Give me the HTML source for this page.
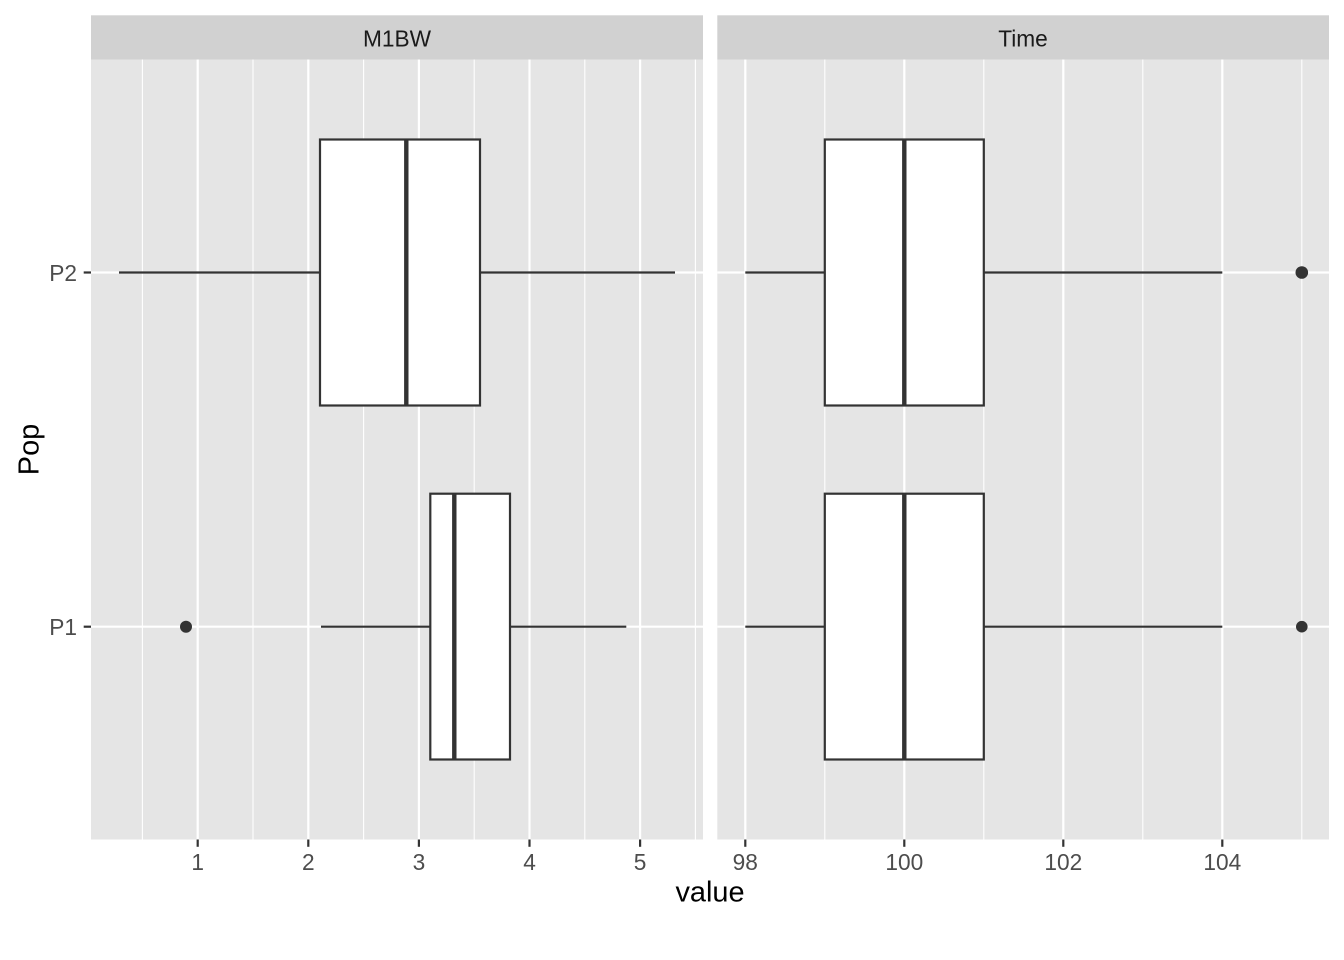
<!DOCTYPE html>
<html>
<head>
<meta charset="utf-8">
<style>
html,body{margin:0;padding:0;background:#fff;}
svg{display:block;}
text{font-family:"Liberation Sans",Arial,sans-serif;}
</style>
</head>
<body>
<svg width="1344" height="960" viewBox="0 0 1344 960" xmlns="http://www.w3.org/2000/svg">
<rect x="0" y="0" width="1344" height="960" fill="#ffffff"/>

<!-- Strips -->
<rect x="91" y="15.3" width="612" height="44.2" fill="#D1D1D1"/>
<rect x="717.3" y="15.3" width="611.7" height="44.2" fill="#D1D1D1"/>
<text x="397" y="46.3" font-size="22.7" fill="#1A1A1A" text-anchor="middle">M1BW</text>
<text x="1023" y="46.3" font-size="22.7" fill="#1A1A1A" text-anchor="middle">Time</text>

<!-- Panel 1 -->
<rect x="91" y="59.5" width="612" height="780" fill="#E5E5E5"/>
<g stroke="#FFFFFF" stroke-width="1.1">
<line x1="142.4" y1="59.5" x2="142.4" y2="839.5"/>
<line x1="253" y1="59.5" x2="253" y2="839.5"/>
<line x1="363.6" y1="59.5" x2="363.6" y2="839.5"/>
<line x1="474.2" y1="59.5" x2="474.2" y2="839.5"/>
<line x1="584.8" y1="59.5" x2="584.8" y2="839.5"/>
<line x1="695.4" y1="59.5" x2="695.4" y2="839.5"/>
</g>
<g stroke="#FFFFFF" stroke-width="2.2">
<line x1="197.7" y1="59.5" x2="197.7" y2="839.5"/>
<line x1="308.3" y1="59.5" x2="308.3" y2="839.5"/>
<line x1="418.9" y1="59.5" x2="418.9" y2="839.5"/>
<line x1="529.5" y1="59.5" x2="529.5" y2="839.5"/>
<line x1="640.1" y1="59.5" x2="640.1" y2="839.5"/>
<line x1="91" y1="272.5" x2="703" y2="272.5"/>
<line x1="91" y1="626.7" x2="703" y2="626.7"/>
</g>

<!-- Panel 2 -->
<rect x="717.3" y="59.5" width="611.7" height="780" fill="#E5E5E5"/>
<g stroke="#FFFFFF" stroke-width="1.1">
<line x1="824.8" y1="59.5" x2="824.8" y2="839.5"/>
<line x1="983.8" y1="59.5" x2="983.8" y2="839.5"/>
<line x1="1142.8" y1="59.5" x2="1142.8" y2="839.5"/>
<line x1="1301.8" y1="59.5" x2="1301.8" y2="839.5"/>
</g>
<g stroke="#FFFFFF" stroke-width="2.2">
<line x1="745.3" y1="59.5" x2="745.3" y2="839.5"/>
<line x1="904.3" y1="59.5" x2="904.3" y2="839.5"/>
<line x1="1063.3" y1="59.5" x2="1063.3" y2="839.5"/>
<line x1="1222.3" y1="59.5" x2="1222.3" y2="839.5"/>
<line x1="717.3" y1="272.5" x2="1329" y2="272.5"/>
<line x1="717.3" y1="626.7" x2="1329" y2="626.7"/>
</g>

<!-- Boxplots panel 1 -->
<g stroke="#333333" stroke-width="2.2" fill="#FFFFFF">
<!-- P2 -->
<line x1="119" y1="272.5" x2="320" y2="272.5"/>
<line x1="480" y1="272.5" x2="675" y2="272.5"/>
<rect x="320" y="139.5" width="160" height="266"/>
<line x1="406.3" y1="139.5" x2="406.3" y2="405.5" stroke-width="4.4"/>
<!-- P1 -->
<line x1="321" y1="626.7" x2="430.3" y2="626.7"/>
<line x1="510" y1="626.7" x2="626.3" y2="626.7"/>
<rect x="430.3" y="493.7" width="79.7" height="265.8"/>
<line x1="454.3" y1="493.7" x2="454.3" y2="759.5" stroke-width="4.4"/>
</g>
<circle cx="186" cy="626.7" r="6" fill="#333333"/>

<!-- Boxplots panel 2 -->
<g stroke="#333333" stroke-width="2.2" fill="#FFFFFF">
<line x1="745.3" y1="272.5" x2="824.8" y2="272.5"/>
<line x1="983.8" y1="272.5" x2="1222.3" y2="272.5"/>
<rect x="824.8" y="139.5" width="159" height="266"/>
<line x1="904.3" y1="139.5" x2="904.3" y2="405.5" stroke-width="4.4"/>
<line x1="745.3" y1="626.7" x2="824.8" y2="626.7"/>
<line x1="983.8" y1="626.7" x2="1222.3" y2="626.7"/>
<rect x="824.8" y="493.7" width="159" height="265.8"/>
<line x1="904.3" y1="493.7" x2="904.3" y2="759.5" stroke-width="4.4"/>
</g>
<circle cx="1301.8" cy="272.5" r="6.3" fill="#333333"/>
<circle cx="1301.8" cy="626.7" r="5.8" fill="#333333"/>

<!-- Axis ticks -->
<g stroke="#333333" stroke-width="2.2">
<line x1="197.7" y1="839.5" x2="197.7" y2="846.8"/>
<line x1="308.3" y1="839.5" x2="308.3" y2="846.8"/>
<line x1="418.9" y1="839.5" x2="418.9" y2="846.8"/>
<line x1="529.5" y1="839.5" x2="529.5" y2="846.8"/>
<line x1="640.1" y1="839.5" x2="640.1" y2="846.8"/>
<line x1="745.3" y1="839.5" x2="745.3" y2="846.8"/>
<line x1="904.3" y1="839.5" x2="904.3" y2="846.8"/>
<line x1="1063.3" y1="839.5" x2="1063.3" y2="846.8"/>
<line x1="1222.3" y1="839.5" x2="1222.3" y2="846.8"/>
<line x1="83.7" y1="272.5" x2="91" y2="272.5"/>
<line x1="83.7" y1="626.7" x2="91" y2="626.7"/>
</g>

<!-- Tick labels -->
<g font-size="22.7" fill="#4D4D4D" text-anchor="middle">
<text x="197.7" y="870">1</text>
<text x="308.3" y="870">2</text>
<text x="418.9" y="870">3</text>
<text x="529.5" y="870">4</text>
<text x="640.1" y="870">5</text>
<text x="745.3" y="870">98</text>
<text x="904.3" y="870">100</text>
<text x="1063.3" y="870">102</text>
<text x="1222.3" y="870">104</text>
</g>
<g font-size="22.7" fill="#4D4D4D" text-anchor="end">
<text x="77" y="280.8">P2</text>
<text x="77" y="635">P1</text>
</g>

<!-- Axis titles -->
<text x="710" y="901.5" font-size="28.9" fill="#000000" text-anchor="middle">value</text>
<text transform="translate(38.5,449.5) rotate(-90)" font-size="28.9" fill="#000000" text-anchor="middle">Pop</text>
</svg>
</body>
</html>
